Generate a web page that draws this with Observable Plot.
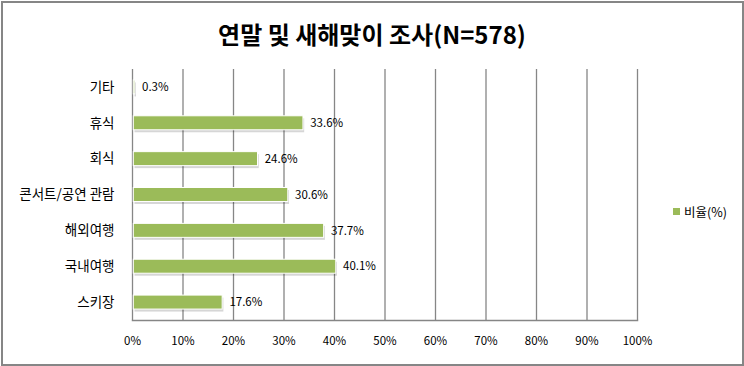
<!DOCTYPE html>
<html><head><meta charset="utf-8">
<script src="https://cdn.jsdelivr.net/npm/d3@7"></script>
<script src="https://cdn.jsdelivr.net/npm/@observablehq/plot@0.6"></script>
<style>
body{margin:0;background:#fff;font-family:"Noto Sans CJK KR","Noto Sans",sans-serif;}
#wrap{position:relative;width:744px;height:366px;overflow:hidden;}
#border{position:absolute;left:1px;top:1px;width:739px;height:361px;border:2px solid #868686;box-sizing:content-box;}
#title{position:absolute;left:0;width:744px;top:16px;text-align:center;font-size:24px;font-weight:bold;color:#000;line-height:36px;}
#legend{position:absolute;left:673px;top:202px;font-size:12.5px;color:#000;display:flex;align-items:center;}
#legend span.sw{display:inline-block;width:7px;height:7px;background:#9BBB59;margin-right:4px;}
#chart{position:absolute;left:0;top:0;}
</style></head>
<body>
<div id="wrap">
<div id="chart"></div>
<div id="title">연말 및 새해맞이 조사(N=578)</div>
<div id="legend"><span class="sw"></span><span>비율(%)</span></div>
<div id="border"></div>
</div>
<script>
const categories = ["기타","휴식","회식","콘서트/공연 관람","해외여행","국내여행","스키장"];
const values = [0.3, 33.6, 24.6, 30.6, 37.7, 40.1, 17.6];
const xTicks = [0,10,20,30,40,50,60,70,80,90,100];
const data = categories.map((c,i)=>({cat:c, v:values[i]}));

const plot = Plot.plot({
  width:744, height:366,
  marginLeft:132, marginRight:107, marginTop:69, marginBottom:46,
  style:{fontFamily:'"Noto Sans CJK KR","Noto Sans",sans-serif', fontSize:"11.5px", color:"#000", background:"transparent"},
  x:{domain:[0,100], ticks:xTicks, tickFormat:d=>d+"%", label:null},
  y:{domain:categories, paddingInner:0.61, paddingOuter:0.305, round:false, label:null},
  marks:[
    Plot.ruleX(xTicks,{stroke:"#868686", strokeWidth:1.3, strokeOpacity:1}),
    Plot.barX(data,{x:"v", y:"cat", fill:"#000", fillOpacity:0.16, dx:2.5, dy:2.5}),
    Plot.barX(data,{x1:0.25, x2:d=>d.v+0.25, y:"cat", fill:"#9BBB59", stroke:"#fff", strokeWidth:1}),
    Plot.text(data,{x:"v", y:"cat", text:d=>d.v.toFixed(1)+"%", textAnchor:"start", dx:8, fill:"#000", fontSize:11.5}),
    Plot.axisX({ticks:xTicks, tickFormat:d=>d+"%", tickSize:0, tickPadding:16, fontSize:11.5, label:null}),
    Plot.axisY({tickSize:0, tickPadding:18, fontSize:13.5, label:null}),
    Plot.frame({anchor:"bottom", stroke:"#868686", strokeWidth:1.5})
  ]
});
document.getElementById("chart").appendChild(plot);
</script>
</body></html>
